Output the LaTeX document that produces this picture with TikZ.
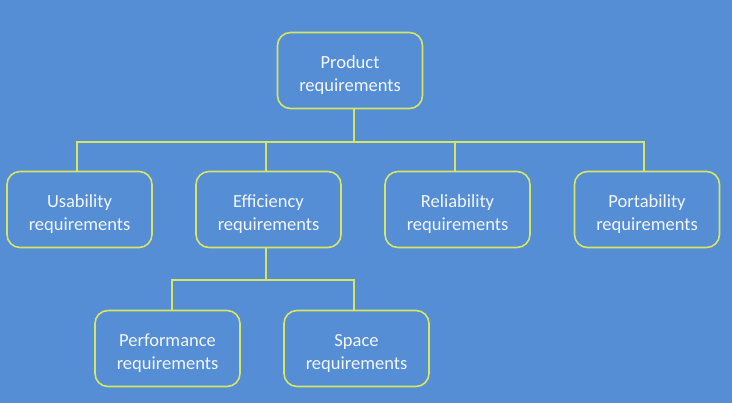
\documentclass[tikz,border=0pt]{standalone}
\usepackage{fontspec}
\setmainfont{Carlito}
\usetikzlibrary{positioning}

\definecolor{bgblue}{RGB}{85,142,213}
\definecolor{edgeyellow}{RGB}{212,230,100}
\definecolor{txtwhite}{RGB}{242,246,255}

\begin{document}
\begin{tikzpicture}[node distance=189pt, on grid,
  req/.style={draw=edgeyellow, line width=1.6pt, rounded corners=13pt,
    fill=bgblue, text=txtwhite, minimum width=145pt, minimum height=76pt,
    align=center, text height=43pt, text depth=0pt,
    font=\fontsize{18.5}{23}\selectfont},
  link/.style={draw=edgeyellow, line width=2pt}]
  \fill[bgblue] (0,0) rectangle (732pt,-403pt);
  \useasboundingbox (0,0) rectangle (732pt,-403pt);

  \node[req] (prod) at (350pt,-70.5pt) {Product\\requirements};
  \node[req] (eff) [below left=139pt and 81.5pt of prod] {Efficiency\\requirements};
  \node[req] (use) [left=of eff] {Usability\\requirements};
  \node[req] (rel) [right=of eff] {Reliability\\requirements};
  \node[req] (port) [right=189.5pt of rel] {Portability\\requirements};
  \node[req] (perf) [below left=139pt and 101pt of eff] {Performance\\requirements};
  \node[req] (space) [right=of perf] {Space\\requirements};

  % top level
  \draw[link] ([xshift=4pt]prod.south) -- ++(0,-33pt) coordinate (top);
  \draw[link] ([xshift=-3pt]use.north) |- (top) -| ([xshift=-3pt]port.north);
  \draw[link] ([xshift=-3pt]eff.north) -- ([xshift=-3pt]eff.north |- top);
  \draw[link] ([xshift=-3pt]rel.north) -- ([xshift=-3pt]rel.north |- top);

  % efficiency branch
  \draw[link] ([xshift=-3pt]eff.south) -- ++(0,-32pt) coordinate (mid);
  \draw[link] ([xshift=4pt]perf.north) |- (mid) -| ([xshift=-3pt]space.north);
\end{tikzpicture}
\end{document}
